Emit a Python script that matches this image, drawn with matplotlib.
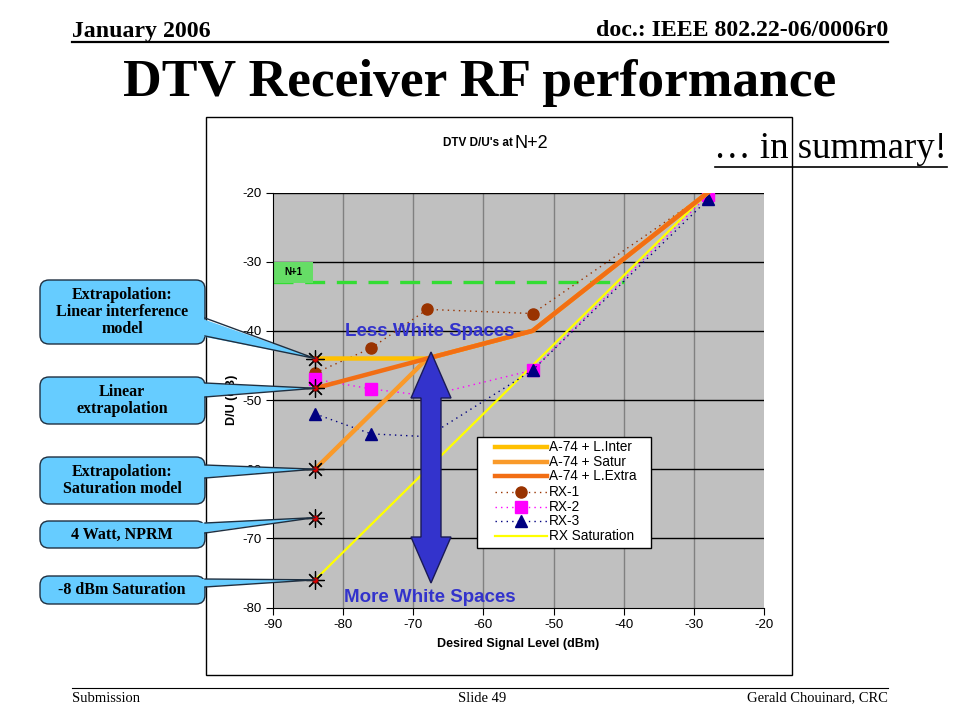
import matplotlib
matplotlib.use("Agg")
import matplotlib.pyplot as plt
from matplotlib.patches import FancyBboxPatch, Polygon, Rectangle

plt.rcParams["axes.unicode_minus"] = False

W, H = 960, 720

# ---- data ----
X_A74 = [-84, -68, -53, -28]
A74_L_INTER = [-44, -44, -40, -20]
A74_SATUR = [-60, -44, -40, -20]
A74_L_EXTRA = [-48.3, -44, -40, -20]

X_RX = [-84, -76, -68, -53, -28]
RX1 = [-46.1, -42.5, -36.9, -37.5, -20.0]
RX2 = [-47.0, -48.4, -49.4, -45.7, -20.4]
RX3 = [-52.0, -54.9, -55.3, -45.7, -21.0]

X_RX_SAT = [-84, -28]
RX_SAT = [-76, -20]

N1_X = [-90, -40]
N1_Y = [-33, -33]

STAR_X = -84
STAR_Y = [-44, -48.3, -60, -67, -76]
CALLOUTS = [
    "Extrapolation:\nLinear interference\nmodel",
    "Linear\nextrapolation",
    "Extrapolation:\nSaturation model",
    "4 Watt, NPRM",
    "-8 dBm Saturation",
]

X_TICKS = [-90, -80, -70, -60, -50, -40, -30, -20]
Y_TICKS = [-80, -70, -60, -50, -40, -30, -20]

SERIF = "Liberation Serif"
SANS = "Liberation Sans"

# series styles (shared by plot and legend)
STY_INTER = dict(color="#FFC000", lw=3.2)
STY_SATUR = dict(color="#F99A2A", lw=3.2)
STY_EXTRA = dict(color="#F26E14", lw=3.2)
STY_RX1 = dict(color="#993300", ls=(0, (1, 3)), lw=1, marker="o", ms=8)
STY_RX2 = dict(color="#FF00FF", ls=(0, (1, 3)), lw=1, marker="s", ms=8)
STY_RX3 = dict(color="#000080", ls=(0, (1, 3)), lw=1, marker="^", ms=9)
STY_SAT = dict(color="#FFFF00", lw=1.6)


def fig_rect(x0, y0, x1, y1):
    return [x0 / W, 1 - y1 / H, (x1 - x0) / W, (y1 - y0) / H]


fig = plt.figure(figsize=(9.6, 7.2), dpi=100)

# white chart area with border
fig.add_artist(Rectangle((206 / W, 1 - 675 / H), (792 - 206) / W, (675 - 117) / H,
                         transform=fig.transFigure, facecolor="white",
                         edgecolor="black", lw=1, zorder=-1))

ax = fig.add_axes(fig_rect(273, 192.5, 764, 607.5))
ax.set_facecolor("#C0C0C0")
ax.set_xlim(-90, -20)
ax.set_ylim(-80, -20)
ax.set_xticks(X_TICKS)
ax.set_yticks(Y_TICKS)
for v in X_TICKS[1:-1]:
    ax.axvline(v, color="#808080", lw=1, zorder=0.5)
for v in Y_TICKS[1:]:
    ax.axhline(v, color="black", lw=1, zorder=0.5)
for s in ["top", "right"]:
    ax.spines[s].set_visible(False)
ax.tick_params(direction="out", length=5, labelsize=9.5, pad=3)
for lab in ax.get_xticklabels() + ax.get_yticklabels():
    lab.set_family(SANS)
ax.set_xlabel("Desired Signal Level (dBm)", fontsize=9, fontweight="bold",
              family=SANS, labelpad=5)
ax.set_ylabel("D/U (dB)", fontsize=9, fontweight="bold", family=SANS, labelpad=3)

# N+1 reference
ax.plot(N1_X, N1_Y, color="#33DD33", lw=2.4, dashes=(6, 3.5), zorder=2)
ax.add_patch(Rectangle((-90, -33.1), 5.7, 3.0, fc="#66DD66", ec="none", zorder=2.5))
ax.text(-87.15, -31.5, "N+1", fontsize=7, fontweight="bold", family=SANS,
        va="center", ha="center", zorder=3)

ax.plot(X_RX_SAT, RX_SAT, zorder=3, **STY_SAT)
ax.plot(X_RX, RX1, zorder=4, **STY_RX1)
ax.plot(X_RX, RX2, zorder=4, **STY_RX2)
ax.plot(X_RX, RX3, zorder=4, **STY_RX3)
ax.plot(X_A74, A74_L_INTER, zorder=5, **STY_INTER)
ax.plot(X_A74, A74_SATUR, zorder=5, **STY_SATUR)
ax.plot(X_A74, A74_L_EXTRA, zorder=6, **STY_EXTRA)

# asterisk points on the -84 dBm line
ax.plot([STAR_X] * len(STAR_Y), STAR_Y, ls="none", marker=(8, 2, 0), ms=13,
        mec="black", mew=0.9, zorder=7)
ax.plot([STAR_X] * len(STAR_Y), STAR_Y, ls="none", marker="o", ms=4,
        mfc="#DD0000", mec="#550000", mew=0.5, zorder=8)

# ---- overlay in slide pixels ----
ov = fig.add_axes([0, 0, 1, 1])
ov.set_xlim(0, W)
ov.set_ylim(H, 0)
ov.axis("off")
ov.patch.set_alpha(0)
ov.set_zorder(5)

# legend box (Excel style: wide side padding)
ov.add_patch(Rectangle((477, 437), 174, 111, fc="white", ec="black", lw=1, zorder=8))
legend_items = [
    ("A-74 + L.Inter", STY_INTER, 447),
    ("A-74 + Satur", STY_SATUR, 462),
    ("A-74 + L.Extra", STY_EXTRA, 476),
    ("RX-1", STY_RX1, 492),
    ("RX-2", STY_RX2, 507),
    ("RX-3", STY_RX3, 521),
    ("RX Saturation", STY_SAT, 536),
]
for name, sty, yy in legend_items:
    line_sty = {k: v for k, v in sty.items() if k not in ("marker", "ms")}
    ov.plot([495, 547], [yy, yy], zorder=9, **line_sty)
    if "marker" in sty:
        ov.plot([521], [yy], ls="none", marker=sty["marker"], ms=sty["ms"],
                color=sty["color"], zorder=10)
    ov.text(549, yy, name, fontsize=9.8, family=SANS, ha="left", va="center",
            zorder=10)

# header / footer
ov.text(72, 31, "January 2006", fontsize=17.2, fontweight="bold", family=SERIF,
        ha="left", va="center")
ov.text(888, 31, "doc.: IEEE 802.22-06/0006r0", fontsize=17.2, fontweight="bold",
        family=SERIF, ha="right", va="center")
ov.plot([72, 888], [42, 42], color="black", lw=1.6)
ov.text(480, 83, "DTV Receiver RF performance", fontsize=38.5, fontweight="bold",
        family=SERIF, ha="center", va="center")
ov.text(947, 149, "\u2026 in summary!", fontsize=26.5, family=SERIF, ha="right",
        va="center")
ov.plot([715, 947], [167, 167], color="black", lw=1.2)
ov.plot([72, 888], [688, 688], color="black", lw=0.8)
ov.text(72, 698, "Submission", fontsize=10.5, family=SERIF, ha="left", va="center")
ov.text(482, 698, "Slide 49", fontsize=10.5, family=SERIF, ha="center", va="center")
ov.text(888, 698, "Gerald Chouinard, CRC", fontsize=10.5, family=SERIF, ha="right",
        va="center")

# chart title
ov.text(513, 143, "DTV D/U's at", fontsize=8.5, fontweight="bold", family=SANS,
        ha="right", va="center")
ov.text(515, 143, "N+2", fontsize=13, family=SANS, ha="left", va="center")

# blue double arrow
cx = 431
arrow = [(cx, 352), (cx + 20, 398), (cx + 10, 398), (cx + 10, 537), (cx + 20, 537),
         (cx, 583), (cx - 20, 537), (cx - 10, 537), (cx - 10, 398), (cx - 20, 398)]
ov.add_patch(Polygon(arrow, closed=True, fc="#3333CC", ec="#1a1a55", lw=1, zorder=3))
ov.text(430, 332, "Less White Spaces", fontsize=13.5, fontweight="bold", family=SANS,
        color="#3333CC", ha="center", va="center", zorder=4)
ov.text(430, 597, "More White Spaces", fontsize=13.5, fontweight="bold", family=SANS,
        color="#3333CC", ha="center", va="center", zorder=4)

# callouts
boxes = [(280, 344, 318, 336), (377, 424, 383, 397), (457, 504, 465, 478),
         (521, 548, 523, 533), (576, 604, 579, 587)]
box_fc = "#66CCFF"
box_ec = "#1f2f40"
for text, y_star, (top, bot, b1, b2) in zip(CALLOUTS, STAR_Y, boxes):
    dx, dy = ax.transData.transform((STAR_X, y_star))
    tip = (dx, H - dy)
    ov.add_patch(FancyBboxPatch((40, top), 165, bot - top,
                                boxstyle="round,pad=0,rounding_size=9",
                                fc=box_fc, ec=box_ec, lw=1, zorder=5))
    ov.add_patch(Polygon([(200, b1), tip, (200, b2)], closed=True, fc=box_fc,
                         ec="none", zorder=6))
    ov.plot([205, tip[0], 205], [b1, tip[1], b2], color=box_ec, lw=1, zorder=6)
    ov.text(122, (top + bot) / 2, text, fontsize=11.5, fontweight="bold", family=SERIF,
            ha="center", va="center", linespacing=1.05, zorder=7)

fig.savefig("out.png", dpi=100)
